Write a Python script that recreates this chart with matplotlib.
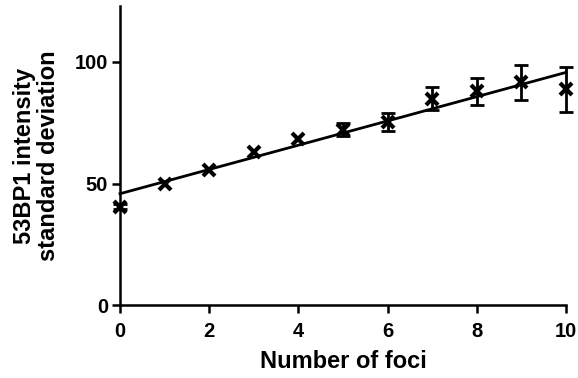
import matplotlib.pyplot as plt

foci = [0, 1, 2, 3, 4, 5, 6, 7, 8, 9, 10]
sd_mean = [40.5, 50.0, 55.5, 62.8, 68.2, 72.2, 75.3, 84.8, 87.9, 91.7, 88.7]
sd_err = [1.0, 0.6, 0.6, 0.6, 0.6, 2.5, 3.5, 4.7, 5.5, 7.2, 9.3]

fit_x = [0, 10]
fit_y = [45.8, 95.7]

plt.rcParams['font.family'] = ['Liberation Sans', 'DejaVu Sans']
plt.rcParams['font.weight'] = 'bold'

fig = plt.figure(figsize=(5.78, 3.78), dpi=100)
ax = fig.add_axes([0.2076, 0.193, 0.7716, 0.791])

ax.plot(fit_x, fit_y, color='black', linewidth=2.0, zorder=2)

# error bars shorter than the symbol are hidden behind it (as in the original)
big = [i for i in range(len(foci)) if sd_err[i] > 0.8]
ax.errorbar([foci[i] for i in big], [sd_mean[i] for i in big],
            yerr=[sd_err[i] for i in big], fmt='none', ecolor='black',
            elinewidth=2, capsize=5, capthick=2, zorder=3)
ax.plot(foci, sd_mean, 'x', color='black', markersize=8.5,
        markeredgewidth=3, zorder=4)

ax.set_xlim(0, 10)
ax.set_ylim(0, 123)
ax.set_xticks([0, 2, 4, 6, 8, 10])
ax.set_yticks([0, 50, 100])

for side in ['top', 'right']:
    ax.spines[side].set_visible(False)
for side in ['left', 'bottom']:
    ax.spines[side].set_linewidth(1.8)
ax.tick_params(direction='out', length=5.5, width=1.8, labelsize=14.5)
ax.tick_params(axis='x', pad=7)
ax.tick_params(axis='y', pad=3)
for lab in ax.get_xticklabels() + ax.get_yticklabels():
    lab.set_fontweight('bold')

ax.set_xlabel('Number of foci', fontsize=17, fontweight='bold', labelpad=6)
ax.set_ylabel('53BP1 intensity\nstandard deviation', fontsize=17,
              fontweight='bold', linespacing=1.05)
ax.yaxis.set_label_coords(-0.135, 0.5)

for artist in ax.get_children():
    artist.set_clip_on(False)

fig.savefig('out.png', dpi=100)
